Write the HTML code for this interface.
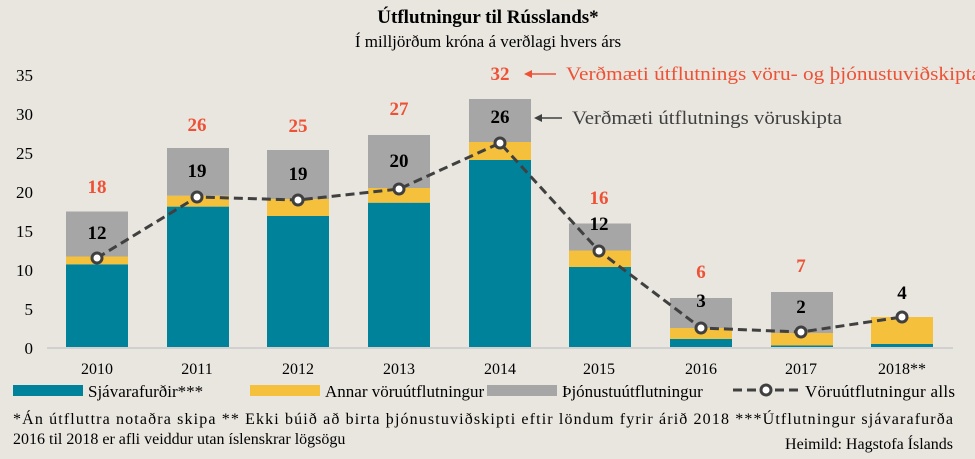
<!DOCTYPE html>
<html><head><meta charset="utf-8"><style>
body{margin:0;background:#e9e6df;}
svg{display:block;font-family:"Liberation Serif",serif;}
</style></head><body>
<svg width="975" height="459" viewBox="0 0 975 459">
<rect width="975" height="459" fill="#e9e6df"/>
<text x="488" y="23" text-anchor="middle" font-size="19" font-weight="bold">Útflutningur til Rússlands*</text>
<text x="488" y="47" text-anchor="middle" font-size="17">Í milljörðum króna á verðlagi hvers árs</text>
<g font-size="17" text-anchor="end">
<text x="33" y="354">0</text><text x="33" y="315">5</text><text x="33" y="276">10</text><text x="33" y="237">15</text><text x="33" y="198">20</text><text x="33" y="159">25</text><text x="33" y="120">30</text><text x="33" y="81">35</text>
</g>
<line x1="47" y1="348" x2="953" y2="348" stroke="#d0d0d0" stroke-width="2"/>
<g id="bars">
<rect x="66" y="264.3" width="62" height="82.7" fill="#00829b"/><rect x="66" y="256.5" width="62" height="7.8" fill="#f5c03b"/><rect x="66" y="211.5" width="62" height="45" fill="#a6a6a6"/>
<rect x="167" y="206.6" width="62" height="140.4" fill="#00829b"/><rect x="167" y="195.7" width="62" height="10.9" fill="#f5c03b"/><rect x="167" y="148" width="62" height="47.7" fill="#a6a6a6"/>
<rect x="267" y="216" width="62" height="131" fill="#00829b"/><rect x="267" y="199" width="62" height="17" fill="#f5c03b"/><rect x="267" y="150" width="62" height="49" fill="#a6a6a6"/>
<rect x="368" y="202.7" width="62" height="144.3" fill="#00829b"/><rect x="368" y="188" width="62" height="14.7" fill="#f5c03b"/><rect x="368" y="135" width="62" height="53" fill="#a6a6a6"/>
<rect x="469" y="160" width="62" height="187" fill="#00829b"/><rect x="469" y="142" width="62" height="18" fill="#f5c03b"/><rect x="469" y="99" width="62" height="43" fill="#a6a6a6"/>
<rect x="569" y="267" width="62" height="80" fill="#00829b"/><rect x="569" y="250.5" width="62" height="16.5" fill="#f5c03b"/><rect x="569" y="223.5" width="62" height="27" fill="#a6a6a6"/>
<rect x="670" y="339" width="62" height="8" fill="#00829b"/><rect x="670" y="328" width="62" height="11" fill="#f5c03b"/><rect x="670" y="298" width="62" height="30" fill="#a6a6a6"/>
<rect x="771" y="345.5" width="62" height="1.5" fill="#00829b"/><rect x="771" y="333" width="62" height="12.5" fill="#f5c03b"/><rect x="771" y="292" width="62" height="41" fill="#a6a6a6"/>
<rect x="871" y="344" width="62" height="3" fill="#00829b"/><rect x="871" y="317" width="62" height="27" fill="#f5c03b"/>
</g>
<polyline points="97,258 197,197 298,200 399,189 500,143 599,251 701,328 801,332 902,317" fill="none" stroke="#404040" stroke-width="3" stroke-dasharray="9,5"/>
<g fill="#fff" stroke="#404040" stroke-width="3">
<circle cx="97" cy="258" r="5"/><circle cx="197" cy="197" r="5"/><circle cx="298" cy="200" r="5"/><circle cx="399" cy="189" r="5"/><circle cx="500" cy="143" r="5"/><circle cx="599" cy="251" r="5"/><circle cx="701" cy="328" r="5"/><circle cx="801" cy="332" r="5"/><circle cx="902" cy="317" r="5"/>
</g>
<g font-size="19" font-weight="bold" text-anchor="middle">
<text x="97" y="239">12</text><text x="197" y="177">19</text><text x="298" y="180">19</text><text x="399" y="167">20</text><text x="500" y="123">26</text><text x="599" y="230">12</text><text x="701" y="307">3</text><text x="801" y="313">2</text><text x="902" y="299">4</text>
</g>
<g font-size="19" font-weight="bold" text-anchor="middle" fill="#ee5135">
<text x="97" y="193">18</text><text x="197" y="131">26</text><text x="298" y="132">25</text><text x="399" y="115">27</text><text x="500" y="80">32</text><text x="599" y="204">16</text><text x="701" y="278">6</text><text x="801" y="272">7</text>
</g>
<line x1="556" y1="74" x2="528" y2="74" stroke="#ee5135" stroke-width="1.5"/><polygon points="524,74 532,70 532,78" fill="#ee5135"/>
<text x="566" y="80" font-size="19" fill="#ee5135" textLength="415" lengthAdjust="spacingAndGlyphs">Verðmæti útflutnings vöru- og þjónustuviðskipta</text>
<line x1="562" y1="118" x2="538" y2="118" stroke="#404040" stroke-width="1.5"/><polygon points="534,118 542,114 542,122" fill="#404040"/>
<text x="572" y="124" font-size="19" fill="#404040" textLength="270" lengthAdjust="spacingAndGlyphs">Verðmæti útflutnings vöruskipta</text>
<g font-size="16" text-anchor="middle">
<text x="97" y="374">2010</text><text x="197" y="374">2011</text><text x="298" y="374">2012</text><text x="399" y="374">2013</text><text x="500" y="374">2014</text><text x="599" y="374">2015</text><text x="701" y="374">2016</text><text x="801" y="374">2017</text><text x="902" y="374">2018**</text>
</g>
<g font-size="17">
<rect x="13" y="385" width="70" height="11" fill="#00829b"/><text x="88" y="397">Sjávarafurðir***</text>
<rect x="250" y="385" width="70" height="11" fill="#f5c03b"/><text x="325" y="397">Annar vöruútflutningur</text>
<rect x="487" y="385" width="70" height="11" fill="#a6a6a6"/><text x="562" y="397">Þjónustuútflutningur</text>
<line x1="733" y1="390" x2="800" y2="390" stroke="#404040" stroke-width="3" stroke-dasharray="9,5"/><circle cx="766" cy="390" r="5" fill="#fff" stroke="#404040" stroke-width="3"/><text x="805" y="397" textLength="150" lengthAdjust="spacing">Vöruútflutningur alls</text>
</g>
<g font-size="16">
<text x="13" y="424" textLength="940" lengthAdjust="spacing">*Án útfluttra notaðra skipa ** Ekki búið að birta þjónustuviðskipti eftir löndum fyrir árið 2018 ***Útflutningur sjávarafurða</text>
<text x="13" y="444">2016 til 2018 er afli veiddur utan íslenskrar lögsögu</text>
<text x="953" y="449" text-anchor="end">Heimild: Hagstofa Íslands</text>
</g>
</svg>
</body></html>
